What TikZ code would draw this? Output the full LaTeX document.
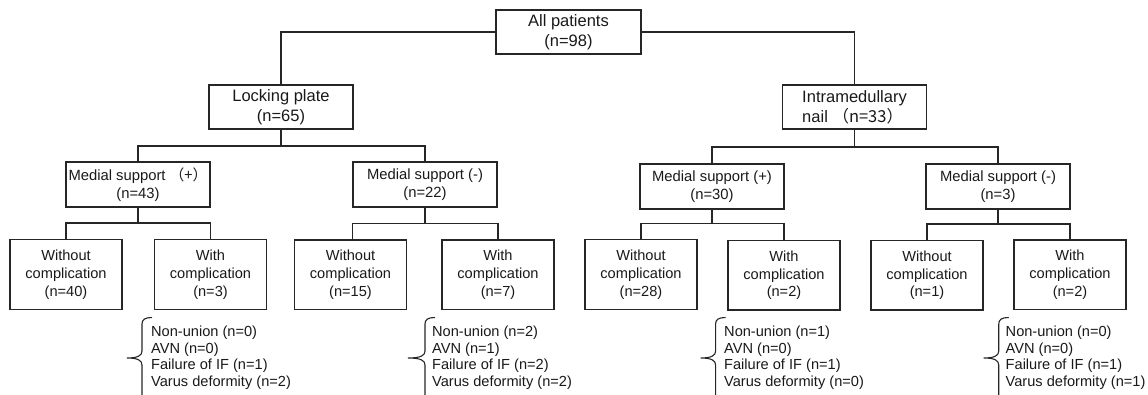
\documentclass[tikz,border=0pt]{standalone}
\usepackage{fontspec}
\setmainfont{Liberation Sans}
\newfontfamily\cjk{Noto Sans CJK SC}
\newcommand\mybrace[2]{%
  \draw[link] (#1+10,317.5) .. controls (#1+3,317.5) and (#1,319.5) .. (#1,324)
    -- (#1,351) .. controls (#1,355.5) and (#1-4,358) .. (#2,358)
    .. controls (#1-4,358) and (#1,360.5) .. (#1,365) -- (#1,396);}
\begin{document}
\begin{tikzpicture}[x=1pt,y=-1pt,
  box/.style={draw=black!85, line width=1.1pt, inner sep=0pt, align=center, text=black!90},
  big/.style={font=\fontsize{16.5}{20}\selectfont},
  small/.style={font=\fontsize{14.8}{17.5}\selectfont},
  link/.style={draw=black!85, line width=1.1pt},
  lst/.style={anchor=west, align=left, inner sep=0pt, text=black!90, font=\fontsize{14.6}{16.8}\selectfont}]
\useasboundingbox (0,0) rectangle (1148,395);
% level 1-2
\node[box,big,minimum width=145pt,minimum height=44pt] (all) at (568.5,32) {All patients\\(n=98)};
\node[box,big,minimum width=144pt,minimum height=44pt] (lp) at (281,107) {Locking plate\\(n=65)};
\node[box,big,minimum width=144pt,minimum height=44pt,align=left] (im) at (854.5,107) {Intramedullary\\nail \cjk{（}n=33\cjk{）}};
% level 3
\node[box,small,minimum width=144pt,minimum height=45pt] (msl1) at (138,184.5) {Medial support \cjk{（}+\cjk{）}\\(n=43)};
\node[box,small,minimum width=144pt,minimum height=45pt] (msl2) at (425,184.5) {Medial support (-)\\(n=22)};
\node[box,small,minimum width=144pt,minimum height=45pt] (msr1) at (712,186.5) {Medial support (+)\\(n=30)};
\node[box,small,minimum width=144pt,minimum height=45pt] (msr2) at (998,186.5) {Medial support (-)\\(n=3)};
% level 4
\tikzset{bot/.style={box,font=\fontsize{14.6}{17.8}\selectfont,minimum height=69.5pt,minimum width=112pt}}
\node[bot] (b1) at (66,274.5) {Without\\complication\\(n=40)};
\node[bot] (b2) at (210.5,274.5) {With\\complication\\(n=3)};
\node[bot] (b3) at (350.5,274.75) {Without\\complication\\(n=15)};
\node[bot] (b4) at (498,274.75) {With\\complication\\(n=7)};
\node[bot] (b5) at (641,274.5) {Without\\complication\\(n=28)};
\node[bot] (b6) at (784,275.25) {With\\complication\\(n=2)};
\node[bot] (b7) at (927,275.25) {Without\\complication\\(n=1)};
\node[bot] (b8) at (1070,274.75) {With\\complication\\(n=2)};
% connectors
\draw[link] (all.west) -| (lp.north);
\draw[link] (all.east) -| (im.north);
\coordinate (j1) at (281,146);
\draw[link] (lp.south) -- (j1);
\draw[link] (msl1.north) |- (j1) -| (msl2.north);
\coordinate (j2) at (854.5,147);
\draw[link] (im.south) -- (j2);
\draw[link] (msr1.north) |- (j2) -| (msr2.north);
\coordinate (k1) at (138,223);
\draw[link] (msl1.south) -- (k1);
\draw[link] (b1.north) |- (k1) -| (b2.north);
\coordinate (k2) at (425,223.5);
\draw[link] (msl2.south) -- (k2);
\draw[link] (b3.north -| msl2.west) |- (k2) -| (b4.north);
\coordinate (k3) at (712,223.5);
\draw[link] (msr1.south) -- (k3);
\draw[link] (b5.north) |- (k3) -| (b6.north);
\coordinate (k4) at (998,224);
\draw[link] (msr2.south) -- (k4);
\draw[link] (b7.north) |- (k4) -| (b8.north);
% complication lists
\node[lst] (c1) at (151,357.75) {Non-union (n=0)\\AVN (n=0)\\Failure of IF (n=1)\\Varus deformity (n=2)};
\node[lst] (c2) at (432,357.75) {Non-union (n=2)\\AVN (n=1)\\Failure of IF (n=2)\\Varus deformity (n=2)};
\node[lst] (c3) at (724,357.75) {Non-union (n=1)\\AVN (n=0)\\Failure of IF (n=1)\\Varus deformity (n=0)};
\node[lst] (c4) at (1005.5,357.75) {Non-union (n=0)\\AVN (n=0)\\Failure of IF (n=1)\\Varus deformity (n=1)};
\mybrace{142}{127}
\mybrace{425}{408}
\mybrace{715.6}{700.6}
\mybrace{998.75}{983.75}
\end{tikzpicture}
\end{document}
